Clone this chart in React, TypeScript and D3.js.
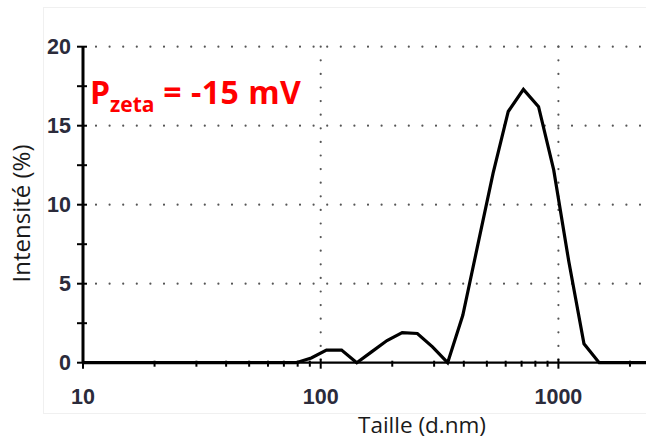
import React from "react";
import * as d3 from "d3";

const sizes = [10, 78.82, 91.28, 105.7, 122.4, 141.8, 164.2, 190.1, 220.2, 255.0, 295.3, 342.0, 396.1, 458.7, 531.2, 615.1, 712.4, 825.0, 955.4, 1106, 1281, 1484, 1718, 1990, 2305, 2669];
const intensity = [0, 0, 0.3, 0.8, 0.8, 0, 0.7, 1.4, 1.9, 1.85, 1.0, 0, 3.0, 7.5, 12.0, 15.9, 17.3, 16.2, 12.2, 6.4, 1.2, 0, 0, 0, 0, 0];

const yTicks = [0, 5, 10, 15, 20];
const yMinor = [2.5, 7.5, 12.5, 17.5];
const xMajor = [10, 100, 1000];
const xMinor = [20, 30, 40, 50, 60, 70, 80, 90, 200, 300, 400, 500, 600, 700, 800, 900, 2000];
const xGrid = [100, 1000];
const yGrid = [5, 10, 15, 20];

const W = 646;
const H = 441;

export default function App() {
  const x = d3.scaleLog().domain([10, 2336]).range([83, 646]);
  const y = d3.scaleLinear().domain([0, 20]).range([362.7, 46.7]);
  const pts = sizes.map((s, i) => [s, intensity[i]] as [number, number]);
  const line = d3
    .line<[number, number]>()
    .x((d) => x(d[0]))
    .y((d) => y(d[1]));

  const x0 = x(10);
  const x1 = 646;
  const tickColor = "#2b2b3b";
  const gridColor = "#555";

  return (
    <svg width={W} height={H} style={{ position: "absolute", left: 0, top: 0, background: "#fff" }}>
      <defs>
        <clipPath id="plot">
          <rect x={x0} y={0} width={x1 - x0} height={y(0) + 3} />
        </clipPath>
      </defs>
      <rect x={43.5} y={7.5} width={640} height={406} fill="none" stroke="#f0f0f0" strokeWidth={1} />
      {/* grid */}
      {yGrid.map((v) => (
        <line key={"hg" + v} x1={x0 + 13} x2={x1} y1={y(v)} y2={y(v)} stroke={gridColor} strokeWidth={2.2}
          strokeDasharray="0 13.6" strokeLinecap="round" />
      ))}
      {xGrid.map((v) => (
        <line key={"vg" + v} x1={x(v)} x2={x(v)} y1={y(20)} y2={y(0)} stroke={gridColor} strokeWidth={2.2}
          strokeDasharray="0 13.6" strokeLinecap="round" />
      ))}
      {/* curve */}
      <path d={line(pts) || ""} fill="none" stroke="#000" strokeWidth={3.2} clipPath="url(#plot)" />
      {/* axes */}
      <line x1={x0} x2={x1} y1={y(0)} y2={y(0)} stroke="#000" strokeWidth={2.2} />
      <line x1={x0} x2={x0} y1={y(20)} y2={y(0)} stroke="#000" strokeWidth={3} />
      {yTicks.concat(yMinor).map((v) => (
        <line key={"yt" + v} x1={x0 - 6} x2={x0 + 4} y1={y(v)} y2={y(v)} stroke="#000" strokeWidth={2} />
      ))}
      {xMinor.map((v) => (
        <line key={"xm" + v} x1={x(v)} x2={x(v)} y1={y(0) - 2} y2={y(0) + 4} stroke="#000" strokeWidth={2} />
      ))}
      {xMajor.map((v) => (
        <line key={"xM" + v} x1={x(v)} x2={x(v)} y1={y(0) - 4} y2={y(0) + 6} stroke="#000" strokeWidth={2} />
      ))}
      {/* tick labels */}
      {yTicks.map((v) => (
        <text key={"yl" + v} x={71} y={y(v)} dy="0.36em" textAnchor="end" fontFamily="Liberation Sans, Arial, sans-serif"
          fontWeight="bold" fontSize={21.5} fill={tickColor}>
          {v}
        </text>
      ))}
      {xMajor.map((v) => (
        <text key={"xl" + v} x={x(v)} y={404} textAnchor="middle" fontFamily="Liberation Sans, Arial, sans-serif"
          fontWeight="bold" fontSize={21.5} fill={tickColor}>
          {v}
        </text>
      ))}
      {/* axis titles */}
      <text x={422} y={433} textAnchor="middle" fontFamily="Open Sans, sans-serif" fontSize={22.5} fill="#1a1a1a">
        Taille (d.nm)
      </text>
      <text transform={`translate(30,${213.5}) rotate(-90)`} textAnchor="middle" fontFamily="Open Sans, sans-serif"
        fontSize={24} fill="#1a1a1a">
        Intensité (%)
      </text>
      {/* annotation */}
      <text x={90} y={104} fontFamily="Open Sans, sans-serif" fontWeight="bold" fill="#ff0000" fontSize={32}>
        P
        <tspan fontSize={21} dy={8}>zeta</tspan>
        <tspan dy={-8} letterSpacing={0.5}> = -15 mV</tspan>
      </text>
    </svg>
  );
}
